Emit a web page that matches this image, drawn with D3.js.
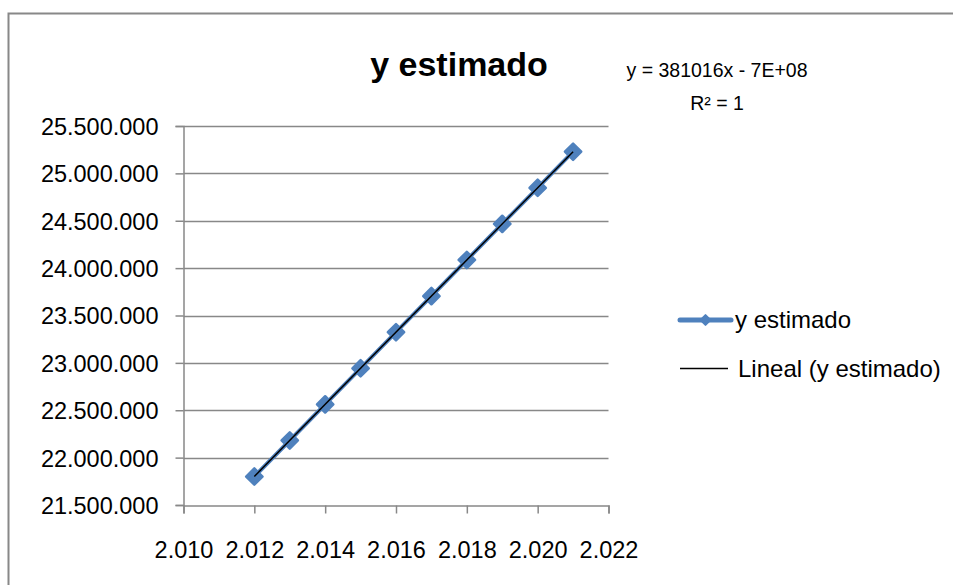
<!DOCTYPE html>
<html>
<head>
<meta charset="utf-8">
<script src="https://cdn.jsdelivr.net/npm/d3@7"></script>
<style>
  body { margin: 0; background: #fff; }
  svg text { font-family: "Liberation Sans", Arial, sans-serif; fill: #000; }
</style>
</head>
<body>
<div id="chart"></div>
<script>
// datos
const years = [2012, 2013, 2014, 2015, 2016, 2017, 2018, 2019, 2020, 2021];
const yEstimado = [21800000, 22181000, 22562000, 22943000, 23324000, 23705000, 24086000, 24467000, 24848000, 25229000];
const xTicks = [2010, 2012, 2014, 2016, 2018, 2020, 2022];
const yTicks = [21500000, 22000000, 22500000, 23000000, 23500000, 24000000, 24500000, 25000000, 25500000];
const titulo = "y estimado";
const ecuacion = ["y = 381016x - 7E+08", "R² = 1"];
const leyenda = ["y estimado", "Lineal (y estimado)"];

const svgWidth = 953, svgHeight = 585;
const plot = { left: 183.5, right: 608.5, top: 126, bottom: 505 };
const azul = "#4F81BD";
const gris = "#888888";

const es = d3.formatLocale({ decimal: ",", thousands: ".", grouping: [3], currency: ["", ""] });
const fmt = es.format(",d");

const svg = d3.select("#chart").append("svg")
  .attr("width", svgWidth)
  .attr("height", svgHeight);

// borde del area del grafico
svg.append("rect")
  .attr("x", 8.5).attr("y", 13.5)
  .attr("width", 1000).attr("height", 1000)
  .attr("fill", "none").attr("stroke", gris).attr("stroke-width", 2);

const x = d3.scaleLinear().domain([2010, 2022]).range([plot.left, plot.right]);
const y = d3.scaleLinear().domain([21500000, 25500000]).range([plot.bottom, plot.top]);

// lineas de division
svg.append("g")
  .selectAll("line")
  .data(yTicks.slice(1))
  .enter().append("line")
  .attr("x1", plot.left).attr("x2", plot.right)
  .attr("y1", d => Math.round(y(d)) + 0.5).attr("y2", d => Math.round(y(d)) + 0.5)
  .attr("stroke", gris).attr("stroke-width", 1.5);

// eje y
const yAxis = svg.append("g")
  .attr("transform", `translate(${plot.left},0)`)
  .call(d3.axisLeft(y).tickValues(yTicks).tickFormat(fmt).tickSize(8).tickPadding(17));

// eje x
const xAxis = svg.append("g")
  .attr("transform", `translate(0,${plot.bottom + 0.5})`)
  .call(d3.axisBottom(x).tickValues(xTicks).tickFormat(fmt).tickSize(8).tickPadding(28));

[yAxis, xAxis].forEach(g => {
  g.select(".domain").attr("stroke", gris).attr("stroke-width", 1.5);
  g.selectAll(".tick line").attr("stroke", gris).attr("stroke-width", 1.5);
  g.selectAll(".tick text").style("font-size", "23.5px").attr("fill", "#000");
});
yAxis.selectAll(".tick text").attr("dy", "0.36em");

// serie
const linea = d3.line().x((d, i) => x(years[i])).y(d => y(d));
svg.append("path")
  .datum(yEstimado)
  .attr("d", linea)
  .attr("fill", "none")
  .attr("stroke", azul)
  .attr("stroke-width", 4)
  .attr("stroke-linejoin", "round");

const diamante = d3.symbol().type(d3.symbolDiamond2).size(170);
svg.append("g")
  .selectAll("path")
  .data(yEstimado)
  .enter().append("path")
  .attr("d", diamante)
  .attr("transform", (d, i) => `translate(${x(years[i])},${y(d)})`)
  .attr("fill", azul)
  .attr("stroke", azul).attr("stroke-width", 2.5).attr("stroke-linejoin", "round");

// linea de tendencia (minimos cuadrados)
const mx = d3.mean(years), my = d3.mean(yEstimado);
const pend = d3.sum(years, (v, i) => (v - mx) * (yEstimado[i] - my)) / d3.sum(years, v => (v - mx) ** 2);
const corte = my - pend * mx;
const x0 = d3.min(years), x1 = d3.max(years);
svg.append("line")
  .attr("x1", x(x0)).attr("y1", y(pend * x0 + corte))
  .attr("x2", x(x1)).attr("y2", y(pend * x1 + corte))
  .attr("stroke", "#000").attr("stroke-width", 1.5);

// titulo
svg.append("text")
  .attr("x", 459).attr("y", 76)
  .attr("text-anchor", "middle")
  .style("font-size", "34px").style("font-weight", "bold")
  .text(titulo);

// ecuacion
svg.append("g").selectAll("text")
  .data(ecuacion)
  .enter().append("text")
  .attr("x", 717).attr("y", (d, i) => 77 + i * 33)
  .attr("text-anchor", "middle")
  .style("font-size", "19.5px")
  .text(d => d);

// leyenda
const ley = svg.append("g");
ley.append("line")
  .attr("x1", 680).attr("x2", 731).attr("y1", 320).attr("y2", 320)
  .attr("stroke", azul).attr("stroke-width", 5).attr("stroke-linecap", "round");
ley.append("path")
  .attr("d", d3.symbol().type(d3.symbolDiamond2).size(60))
  .attr("transform", "translate(705.5,320)")
  .attr("fill", azul)
  .attr("stroke", azul).attr("stroke-width", 2).attr("stroke-linejoin", "round");
ley.append("line")
  .attr("x1", 680).attr("x2", 728).attr("y1", 368.5).attr("y2", 368.5)
  .attr("stroke", "#000").attr("stroke-width", 1.5);
ley.selectAll("text")
  .data(leyenda)
  .enter().append("text")
  .attr("x", (d, i) => i === 0 ? 735 : 738)
  .attr("y", (d, i) => 328 + i * 49)
  .style("font-size", "24px")
  .text(d => d);
</script>
</body>
</html>
